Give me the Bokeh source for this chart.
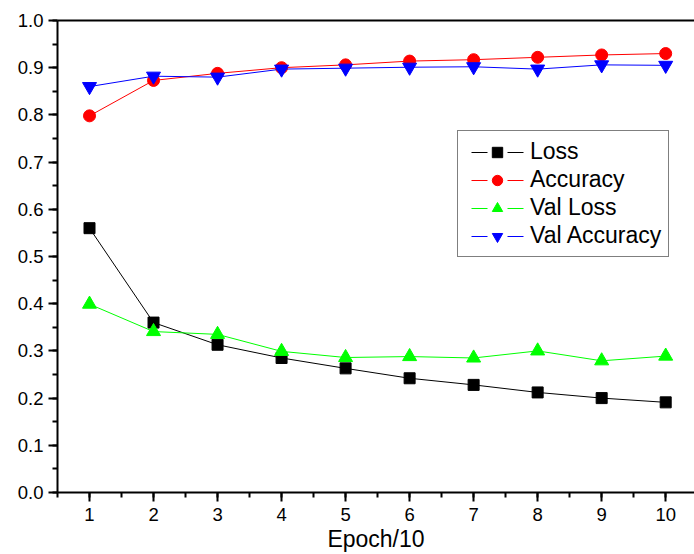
from bokeh.plotting import figure
from bokeh.models import (Range1d, SingleIntervalTicker, LinearAxis, Legend, LegendItem,
                          PrintfTickFormatter)
from bokeh.embed import file_html
from bokeh.resources import INLINE

epochs = [1, 2, 3, 4, 5, 6, 7, 8, 9, 10]
loss = [0.560, 0.360, 0.313, 0.285, 0.263, 0.242, 0.228, 0.212, 0.200, 0.191]
accuracy = [0.798, 0.873, 0.888, 0.900, 0.906, 0.914, 0.917, 0.922, 0.927, 0.930]
val_loss = [0.399, 0.341, 0.335, 0.299, 0.286, 0.288, 0.285, 0.300, 0.279, 0.289]
val_accuracy = [0.860, 0.882, 0.880, 0.897, 0.899, 0.901, 0.902, 0.897, 0.906, 0.905]

FONT = "Liberation Sans"
NAN = float("nan")

p = figure(width=694, height=554, output_backend="svg", toolbar_location=None,
           x_range=Range1d(0.5, 10.45), y_range=Range1d(0.0, 1.0),
           min_border_left=57, min_border_right=0, min_border_top=20, min_border_bottom=61,
           x_axis_label="Epoch/10")
p.outline_line_color = None
p.grid.visible = False
p.background_fill_color = "white"
p.border_fill_color = "white"

p.xaxis.ticker = SingleIntervalTicker(interval=1, num_minor_ticks=2)
p.yaxis.ticker = SingleIntervalTicker(interval=0.1, num_minor_ticks=2)
p.yaxis.formatter = PrintfTickFormatter(format="%.1f")

for ax in (p.xaxis[0], p.yaxis[0]):
    ax.axis_line_width = 2
    ax.axis_line_color = "black"
    ax.major_tick_line_width = 2
    ax.minor_tick_line_width = 2
    ax.major_tick_in = 0
    ax.major_tick_out = 9
    ax.minor_tick_in = 0
    ax.minor_tick_out = 5
    ax.major_label_text_font = FONT
    ax.major_label_text_font_size = "18.5px"
    ax.major_label_text_color = "black"
    ax.axis_label_text_font = FONT
    ax.axis_label_text_font_size = "23px"
    ax.axis_label_text_font_style = "normal"
    ax.axis_label_text_color = "black"

p.yaxis.major_label_standoff = 5
p.xaxis.major_label_standoff = 6
p.xaxis.axis_label_standoff = 2

top = LinearAxis(axis_line_width=2, axis_line_color="black",
                 major_tick_line_color=None, minor_tick_line_color=None,
                 major_label_text_font_size="0px")
top.major_label_text_color = None
p.add_layout(top, "above")

series = [
    ("Loss", loss, "black", "square", 11, 8),
    ("Accuracy", accuracy, "#ff0000", "circle", 12, 10),
    ("Val Loss", val_loss, "#00ff00", "triangle", 14, 11),
    ("Val Accuracy", val_accuracy, "#0000ff", "inverted_triangle", 14, 11),
]
items = []
for name, ys, color, marker, size, lsize in series:
    p.line(epochs, ys, line_color=color, line_width=1)
    p.scatter(epochs, ys, marker=marker, size=size, fill_color=color, line_color=color)
    # legend-only sample glyphs (NaN point, not drawn in the plot)
    ll = p.line(x=[NAN], y=[NAN], line_color=color, line_width=1, line_dash="0 6 16 20 16 6")
    ls = p.scatter(x=[NAN], y=[NAN], marker=marker, size=lsize, fill_color=color, line_color=color)
    items.append(LegendItem(label=name, renderers=[ll, ls]))

legend = Legend(items=items, location=(400, 235))
legend.label_text_font = FONT
legend.label_text_font_size = "23px"
legend.label_text_color = "black"
legend.glyph_width = 64
legend.glyph_height = 26
legend.label_height = 26
legend.label_standoff = 1
legend.spacing = 1
legend.padding = 7
legend.margin = 0
legend.border_line_color = "black"
legend.border_line_width = 1
legend.background_fill_alpha = 1
p.add_layout(legend, "center")

open("out.html", "w").write(file_html(p, INLINE))
